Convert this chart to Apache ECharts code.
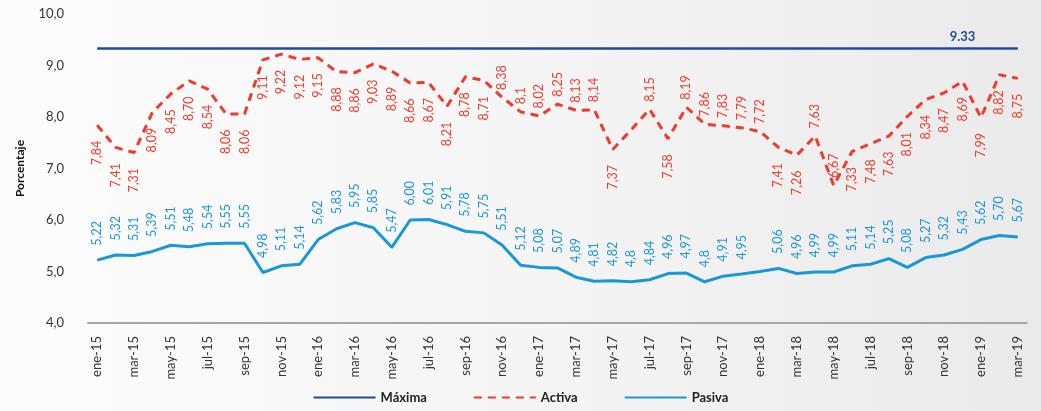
<!DOCTYPE html>
<html><head><meta charset="utf-8">
<script src="https://cdn.jsdelivr.net/npm/echarts@6/dist/echarts.min.js"></script>
<style>html,body{margin:0;padding:0;background:#f5f5f5}#c{width:1041px;height:411px;}</style>
</head><body><div id="c"></div>
<script>
const categories = [
  'ene-15','feb-15','mar-15','abr-15','may-15','jun-15','jul-15','ago-15','sep-15','oct-15','nov-15','dic-15',
  'ene-16','feb-16','mar-16','abr-16','may-16','jun-16','jul-16','ago-16','sep-16','oct-16','nov-16','dic-16',
  'ene-17','feb-17','mar-17','abr-17','may-17','jun-17','jul-17','ago-17','sep-17','oct-17','nov-17','dic-17',
  'ene-18','feb-18','mar-18','abr-18','may-18','jun-18','jul-18','ago-18','sep-18','oct-18','nov-18','dic-18',
  'ene-19','feb-19','mar-19'
];
const activa = [
  '7.84','7.41','7.31','8.09','8.45','8.70','8.54','8.06','8.06','9.11','9.22','9.12',
  '9.15','8.88','8.86','9.03','8.89','8.66','8.67','8.21','8.78','8.71','8.38','8.1',
  '8.02','8.25','8.13','8.14','7.37','7.75','8.15','7.58','8.19','7.86','7.83','7.79',
  '7.72','7.41','7.26','7.63','6.67','7.33','7.48','7.63','8.01','8.34','8.47','8.69',
  '7.99','8.82','8.75'
];
const pasiva = [
  '5.22','5.32','5.31','5.39','5.51','5.48','5.54','5.55','5.55','4.98','5.11','5.14',
  '5.62','5.83','5.95','5.85','5.47','6.00','6.01','5.91','5.78','5.75','5.51','5.12',
  '5.08','5.07','4.89','4.81','4.82','4.8','4.84','4.96','4.97','4.8','4.91','4.95',
  '5.00','5.06','4.96','4.99','4.99','5.11','5.14','5.25','5.08','5.27','5.32','5.43',
  '5.62','5.70','5.67'
];
const maxima = 9.33;
const maximaLabel = '9.33';
const yTicks = [4, 5, 6, 7, 8, 9, 10];

// label layout (style, not data)
const activaNoLabel = [29];
const pasivaNoLabel = [36];
const activaAbove = [22,23,24,25,26,27,30,32,33,34,35,36,39,40];
const maximaLabelIndex = 47;

const RED = '#ef3b2d', BLUE = '#1b97d5', NAVY = '#1f4c9a';
const CLEAR = 'rgba(0,0,0,0)';
const FONT = 'Lato, "Open Sans", sans-serif';

function fmt(s){ return s.replace('.', ','); }

const activaData = activa.map((v, i) => {
  const above = activaAbove.includes(i);
  return {
    value: Number(v),
    label: {
      show: !activaNoLabel.includes(i),
      position: above ? 'top' : 'bottom',
      align: above ? 'left' : 'right',
      verticalAlign: 'middle',
      distance: above ? 7 : 15
    }
  };
});
const pasivaData = pasiva.map((v, i) => ({
  value: Number(v),
  label: { show: !pasivaNoLabel.includes(i) }
}));
const maximaData = categories.map((c, i) => ({
  value: maxima,
  label: { show: i === maximaLabelIndex }
}));

const common = { type: 'line', symbol: 'circle', symbolSize: 1, showSymbol: true, showAllSymbol: true };

const chart = echarts.init(document.getElementById('c'));
chart.setOption({
  backgroundColor: {
    type: 'linear', x: 0, y: 0, x2: 1, y2: 0,
    colorStops: [{offset: 0, color: '#fcfcfc'}, {offset: 0.5, color: '#f5f5f5'}, {offset: 1, color: '#eaeaea'}]
  },
  animation: false,
  textStyle: { fontFamily: FONT },
  grid: { left: 88, right: 14, top: 14, bottom: 88 },
  legend: {
    bottom: 2, left: 'center',
    itemWidth: 62, itemHeight: 10, itemGap: 46,
    textStyle: { fontFamily: FONT, fontSize: 13, fontWeight: 'bold', color: '#222' },
    data: ['Máxima', 'Activa', 'Pasiva']
  },
  xAxis: {
    type: 'category',
    data: categories,
    boundaryGap: true,
    axisLine: { lineStyle: { color: '#a6a6a6', width: 2 } },
    axisTick: { show: false },
    axisLabel: { interval: 1, rotate: 90, margin: 13, fontSize: 13, color: '#333', fontFamily: FONT }
  },
  yAxis: {
    type: 'value',
    min: yTicks[0], max: yTicks[yTicks.length - 1], interval: 1,
    name: 'Porcentaje', nameLocation: 'middle', nameGap: 62,
    nameTextStyle: { fontFamily: FONT, fontSize: 12, fontWeight: 'bold', color: '#111' },
    axisLine: { show: false }, axisTick: { show: false },
    splitLine: { show: false },
    axisLabel: { margin: 24, fontSize: 13, color: '#333', fontFamily: FONT,
      formatter: v => v.toFixed(1).replace('.', ',') }
  },
  series: [
    Object.assign({}, common, {
      name: 'Máxima', data: maximaData,
      lineStyle: { color: NAVY, width: 2.5 }, itemStyle: { color: CLEAR, borderWidth: 0 },
      label: { show: false, position: 'top', distance: 5, color: NAVY, fontWeight: 'bold', fontSize: 13,
        fontFamily: FONT, formatter: () => maximaLabel }
    }),
    Object.assign({}, common, {
      name: 'Activa', data: activaData,
      lineStyle: { color: RED, width: 3, type: [8, 6] }, itemStyle: { color: CLEAR, borderWidth: 0 },
      label: { show: true, rotate: 90, color: RED, fontSize: 12.5, fontFamily: FONT,
        formatter: p => fmt(activa[p.dataIndex]) }
    }),
    Object.assign({}, common, {
      name: 'Pasiva', data: pasivaData,
      lineStyle: { color: BLUE, width: 3 }, itemStyle: { color: CLEAR, borderWidth: 0 },
      label: { show: true, position: 'top', distance: 14, rotate: 90, align: 'left', verticalAlign: 'middle',
        color: BLUE, fontSize: 12.5, fontFamily: FONT,
        formatter: p => fmt(pasiva[p.dataIndex]) }
    })
  ]
});
</script></body></html>
